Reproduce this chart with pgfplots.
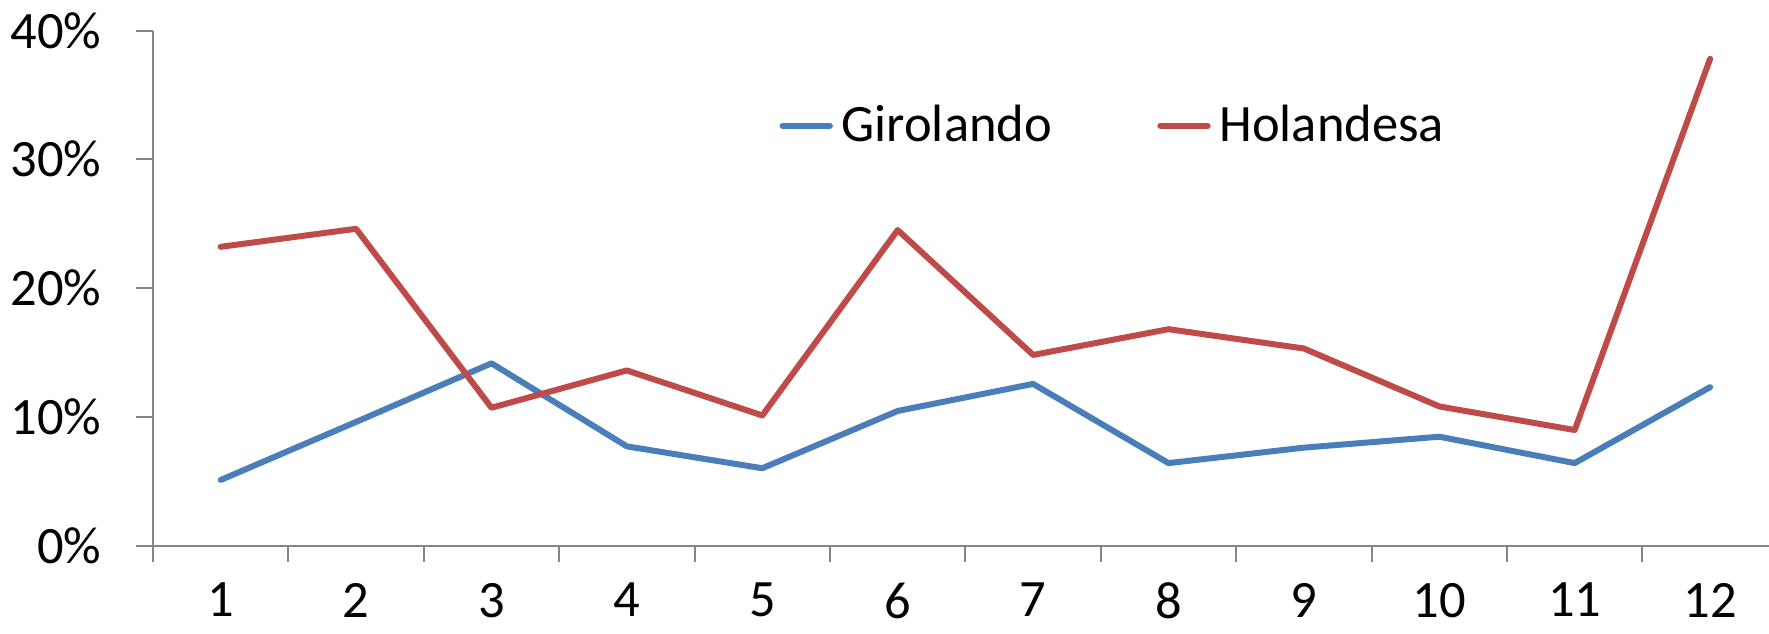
\documentclass[border=0pt]{standalone}
\usepackage{fontspec}
\setmainfont{Carlito}
\usepackage{pgfplots}
\pgfplotsset{compat=1.18}
\definecolor{gblue}{HTML}{4A7EBB}
\definecolor{hred}{HTML}{BE4B48}
\definecolor{axgray}{HTML}{868686}
\begin{document}
\begin{tikzpicture}[font=\fontsize{15.75}{18}\selectfont]
\useasboundingbox (0,0) rectangle (530.7pt,190.2pt);
\begin{axis}[
  at={(45.9pt,26.55pt)}, anchor=south west,
  scale only axis, width=487.44pt, height=154.5pt,
  xmin=0.5, xmax=12.5, ymin=0, ymax=40,
  axis x line*=bottom, axis y line*=left,
  axis line style={axgray, line width=0.6pt},
  xtick={0.5,1.5,2.5,3.5,4.5,5.5,6.5,7.5,8.5,9.5,10.5,11.5,12.5},
  xticklabels={},
  extra x ticks={1,2,3,4,5,6,7,8,9,10,11,12},
  extra x tick labels={1,2,3,4,5,6,7,8,9,10,11,12},
  extra x tick style={major tick length=0pt},
  ytick={0,10,20,30,40}, yticklabels={0\%,10\%,20\%,30\%,40\%},
  tick align=outside,
  major tick length=5pt,
  tick style={axgray, line width=0.6pt},
  xticklabel style={anchor=north, inner sep=0pt, yshift=-11.05pt},
  yticklabel style={anchor=east, inner sep=0pt, xshift=-10.3pt},
  legend style={draw=none, fill=none, inner sep=0pt, at={(0.3852,0.815)}, anchor=west,
    nodes={inner sep=0pt},
    legend columns=2,
    /tikz/every odd column/.append style={column sep=2.65pt},
    /tikz/every even column/.append style={column sep=31.6pt}},
  legend image code/.code={\draw[#1, line cap=round] (0pt,0pt) -- (14.2pt,0pt);},
  every axis plot/.append style={line width=1.8pt, line join=round, line cap=round},
  clip=false,
]
\addplot[gblue] coordinates {(1,5.09) (2,9.6) (3,14.15) (4,7.7) (5,6.0) (6,10.45) (7,12.55) (8,6.4) (9,7.6) (10,8.45) (11,6.4) (12,12.3)};
\addlegendentry{Girolando}
\addplot[hred] coordinates {(1,23.2) (2,24.6) (3,10.7) (4,13.6) (5,10.1) (6,24.5) (7,14.8) (8,16.8) (9,15.3) (10,10.8) (11,8.97) (12,37.8)};
\addlegendentry{Holandesa}
\end{axis}
\end{tikzpicture}
\end{document}
